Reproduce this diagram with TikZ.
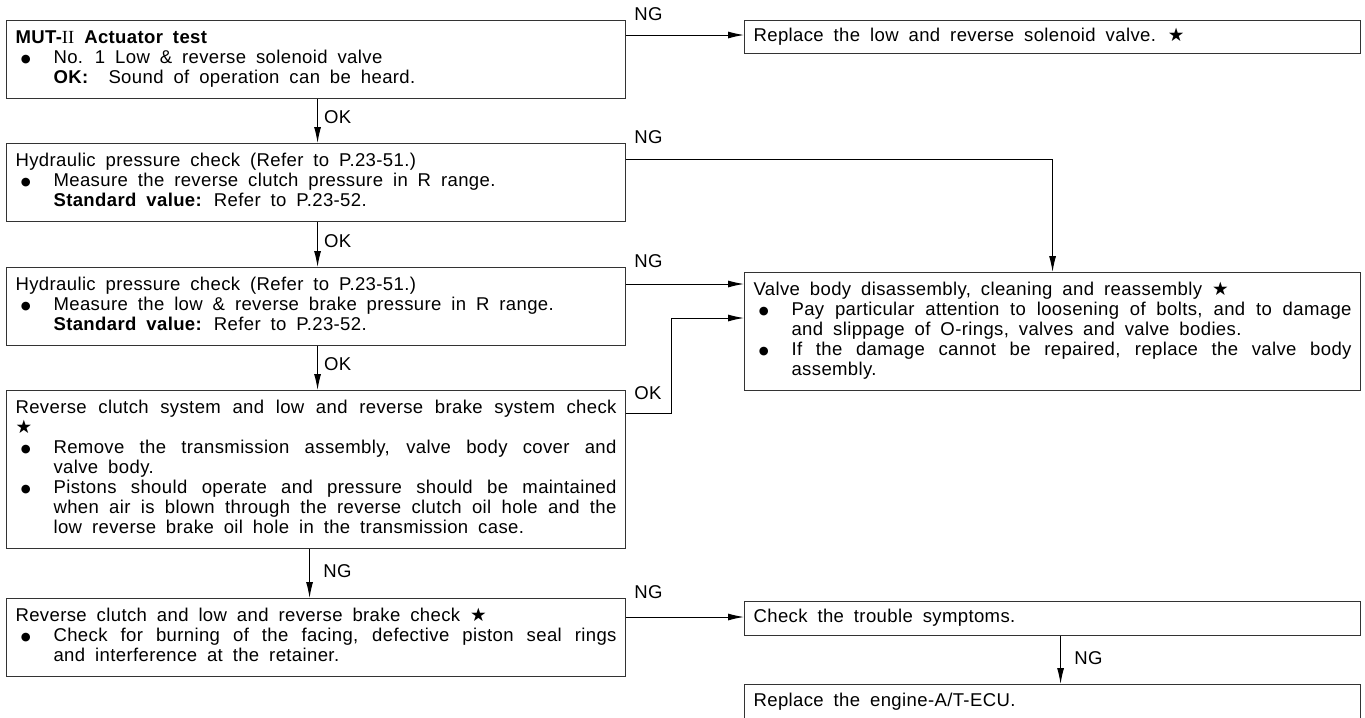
\documentclass[tikz,border=0pt]{standalone}
\usepackage{fontspec}
\setmainfont{Liberation Sans}[LetterSpace=2,WordSpace=1.8]
\newfontfamily\symf{DejaVu Sans}
\newfontfamily\serf{Liberation Serif}
\usetikzlibrary{arrows.meta}
\newcommand\bulsym{\raisebox{0.6pt}{\symf\fontsize{8.5}{8.5}\selectfont ●}}
\newcommand\bul{\par\hangindent=28.5pt\hangafter=1\noindent\makebox[28.5pt][l]{\hspace{4pt}\bulsym}\ignorespaces}
\newcommand\bxt[2]{\begin{minipage}{#1}\fontsize{13.9}{15}\selectfont\hyphenpenalty=10000 \exhyphenpenalty=10000 \tolerance=10000 \emergencystretch=2em \strut#2\strut\end{minipage}}
\newcommand\stsym{{\symf ★}}
\tikzset{
  box/.style={draw=black!80, line width=0.85pt, inner sep=0pt, anchor=north west, fill=white},
  lbox/.style={box, minimum width=464.25pt},
  rbox/.style={box, minimum width=462pt},
  arr/.style={line width=0.75pt, -{Latex[length=12pt,width=5.25pt]}},
  lab/.style={font=\fontsize{13.9}{15}\selectfont, inner sep=0pt, anchor=west}
}
\begin{document}
\begin{tikzpicture}[x=0.75pt,y=-0.75pt]
\useasboundingbox (0,0) rectangle (1365,718);
\fill[white] (0,0) rectangle (1365,718);
\clip (0,0) rectangle (1365,718);
% left column
\node[lbox, minimum height=58.5pt] (b1) at (6,20) {\bxt{450.75pt}{\textbf{MUT-}{\serf II} \textbf{Actuator test}\bul No. 1 Low \& reverse solenoid valve\\\textbf{OK:}\ \ Sound of operation can be heard.}};
\node[lbox, minimum height=58.5pt] (b2) at (6,143) {\bxt{450.75pt}{Hydraulic pressure check (Refer to P.23-51.)\bul Measure the reverse clutch pressure in R range.\\\textbf{Standard value:} Refer to P.23-52.}};
\node[lbox, minimum height=58.5pt] (b3) at (6,267) {\bxt{450.75pt}{Hydraulic pressure check (Refer to P.23-51.)\bul Measure the low \& reverse brake pressure in R range.\\\textbf{Standard value:} Refer to P.23-52.}};
\node[lbox, minimum height=118.5pt] (b4) at (6,390) {\bxt{450.75pt}{Reverse clutch system and low and reverse brake system check\linebreak\stsym\bul Remove the transmission assembly, valve body cover and\linebreak valve body.\bul Pistons should operate and pressure should be maintained\linebreak when air is blown through the reverse clutch oil hole and the\linebreak low reverse brake oil hole in the transmission case.}};
\node[lbox, minimum height=58.5pt] (b5) at (6,598) {\bxt{450.75pt}{Reverse clutch and low and reverse brake check \stsym\bul Check for burning of the facing, defective piston seal rings\linebreak and interference at the retainer.}};
% right column
\node[rbox, minimum height=24.75pt] (r1) at (744,20) {\bxt{448.5pt}{Replace the low and reverse solenoid valve. \stsym}};
\node[rbox, minimum height=88.5pt] (vb) at (744,272) {\bxt{448.5pt}{Valve body disassembly, cleaning and reassembly \stsym\bul Pay particular attention to loosening of bolts, and to damage\linebreak and slippage of O-rings, valves and valve bodies.\bul If the damage cannot be repaired, replace the valve body\linebreak assembly.}};
\node[rbox, minimum height=25.5pt] (chk) at (744,601) {\bxt{448.5pt}{Check the trouble symptoms.}};
\node[rbox, minimum height=27pt] (ecu) at (744,684) {\bxt{448.5pt}{Replace the engine-A/T-ECU.}};
% NG branches to the right
\coordinate (n1) at ([yshift=-11.25pt]b1.north east);
\draw[arr] (n1) -- (n1 -| r1.west);
\node[lab] (ng1) at ([xshift=6pt,yshift=4.5pt]b1.north east) {NG};
\coordinate (n2) at ([yshift=-12pt]b2.north east);
\draw[arr] (n2) -| (vb.north);
\node[lab] (ng2) at ([xshift=6pt,yshift=4.5pt]b2.north east) {NG};
\coordinate (n3) at ([yshift=-12.75pt]b3.north east);
\draw[arr] (n3) -- (n3 -| vb.west);
\node[lab] (ng3) at ([xshift=6pt,yshift=4.5pt]b3.north east) {NG};
\coordinate (o4) at ([yshift=-17.25pt]b4.north east);
\coordinate (v4) at ([yshift=-34.5pt]vb.north west);
\draw[arr] (o4) -- ++(45,0) |- (v4);
\node[lab] (ok4) at ([xshift=6pt,yshift=-2.25pt]b4.north east) {OK};
\coordinate (n5) at ([yshift=-14.25pt]b5.north east);
\draw[arr] (n5) -- (n5 -| chk.west);
\node[lab] (ng5) at ([xshift=6pt,yshift=4.5pt]b5.north east) {NG};
% downward arrows
\coordinate (d1) at ([xshift=1.125pt]b1.south);
\draw[arr] (d1) -- (d1 |- b2.north) node[lab, pos=0.42, xshift=4.5pt] (ok1) {OK};
\coordinate (d2) at ([xshift=1.125pt]b2.south);
\draw[arr] (d2) -- (d2 |- b3.north) node[lab, pos=0.42, xshift=4.5pt] (ok2) {OK};
\coordinate (d3) at ([xshift=1.125pt]b3.south);
\draw[arr] (d3) -- (d3 |- b4.north) node[lab, pos=0.42, xshift=4.5pt] (ok3) {OK};
\coordinate (d4) at ([xshift=-4.875pt]b4.south);
\draw[arr] (d4) -- (d4 |- b5.north) node[lab, pos=0.45, xshift=10pt] (ng4) {NG};
\coordinate (d5) at ([xshift=6pt]chk.south);
\draw[arr] (d5) -- (d5 |- ecu.north) node[lab, pos=0.45, xshift=10pt] (ng6) {NG};
\end{tikzpicture}
\end{document}
